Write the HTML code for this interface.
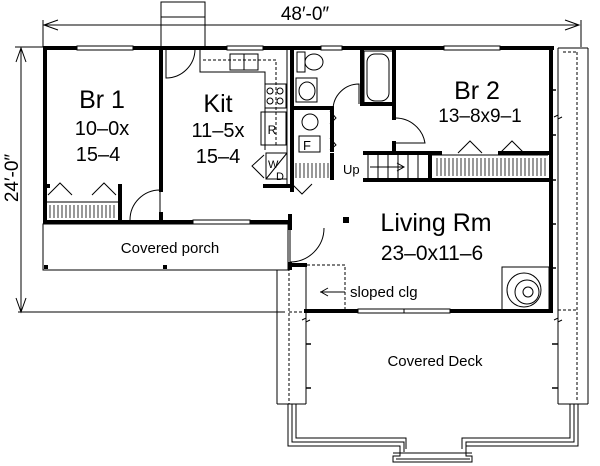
<!DOCTYPE html>
<html><head><meta charset="utf-8"><style>
html,body{margin:0;padding:0;background:#fff;}
svg{display:block;}
text{font-family:"Liberation Sans",sans-serif;fill:#000;}
</style></head><body>
<svg width="600" height="466" viewBox="0 0 600 466" xmlns="http://www.w3.org/2000/svg">
<rect width="600" height="466" fill="#fff"/>
<!-- dimensions -->
<g stroke="#000" stroke-width="1" fill="none">
<line x1="43" y1="25" x2="579" y2="25"/>
<polyline points="58,20 44,25 58,30"/>
<polyline points="565,20 579,25 565,30"/>
<line x1="43" y1="20" x2="43" y2="47"/>
<line x1="581" y1="20" x2="581" y2="47"/>
<line x1="21" y1="48" x2="21" y2="312"/>
<polyline points="16,62 21,48 26,62"/>
<polyline points="16,298 21,312 26,298"/>
<line x1="15" y1="47" x2="43" y2="47"/>
<line x1="18" y1="312" x2="285" y2="312"/>
</g>
<text x="305" y="20" font-size="19" text-anchor="middle">48′-0″</text>
<text transform="translate(18,178) rotate(-90)" font-size="19" text-anchor="middle">24′-0″</text>

<!-- chimney -->
<g stroke="#000" stroke-width="1" fill="none">
<rect x="161" y="2" width="44" height="46"/>
<line x1="161" y1="17" x2="205" y2="17"/>
</g>

<!-- right dashed strip -->
<g stroke="#000" fill="none">
<line x1="558" y1="48" x2="558" y2="404" stroke-width="1"/>
<line x1="588" y1="48" x2="588" y2="404" stroke-width="1"/>
<line x1="558" y1="48" x2="588" y2="48" stroke-width="1"/>
<line x1="558" y1="404" x2="588" y2="404" stroke-width="1"/>
<line x1="577" y1="52" x2="577" y2="400" stroke-width="1" stroke-dasharray="3,2"/>
<line x1="563" y1="52" x2="577" y2="52" stroke-width="1" stroke-dasharray="3,2"/>
<line x1="558" y1="310" x2="577" y2="310" stroke-width="1" stroke-dasharray="3,2"/>
<!-- left deck strip -->
<line x1="277" y1="270" x2="277" y2="404"/>
<line x1="306" y1="265" x2="306" y2="404"/>
<line x1="277" y1="404" x2="306" y2="404"/>
<line x1="289" y1="268" x2="289" y2="404" stroke-dasharray="3,2"/>
<line x1="289" y1="312" x2="306" y2="312" stroke-dasharray="3,2"/>
<!-- sloped ceiling dashed -->
<polyline points="292,265 345,265 345,311" stroke-dasharray="3,2"/>
</g>
<!-- wall ticks -->
<g stroke="#000" stroke-width="1.5">
<line x1="549" y1="90" x2="556" y2="90"/>
<line x1="549" y1="135" x2="556" y2="135"/>
<line x1="549" y1="180" x2="556" y2="180"/>
<line x1="549" y1="224" x2="556" y2="224"/>
<line x1="549" y1="268" x2="556" y2="268"/>
<line x1="306" y1="344" x2="311" y2="344"/>
<line x1="306" y1="388" x2="311" y2="388"/>
<line x1="552" y1="344" x2="558" y2="344"/>
<line x1="552" y1="388" x2="558" y2="388"/>
</g>
<g stroke="#000" stroke-width="1" fill="none">
<polyline points="302,320 306,318 306,322 310,320"/>
<polyline points="554,320 558,318 558,322 562,320"/>
<polyline points="554,117 558,115 558,119 562,117"/>
</g>

<!-- bay deck -->
<g stroke="#000" stroke-width="1" fill="none">
<polyline points="288,404 288,446 400,446 400,456 393,456 393,462 472,462 472,456 466,456 466,446 578,446 578,404"/>
<polyline points="292,404 292,442 404,442 404,452"/>
<polyline points="296,404 296,438 406,438 406,449"/>
<polyline points="462,449 462,438 570,438 570,404"/>
<polyline points="466,452 466,442 574,442 574,404"/>
<line x1="396" y1="459" x2="470" y2="459"/>
<line x1="393" y1="453" x2="472" y2="453"/>
</g>

<!-- walls -->
<g stroke="#000" stroke-width="4" fill="none" stroke-linecap="square">
<line x1="45" y1="48" x2="77" y2="48"/>
<line x1="133" y1="48" x2="227" y2="48"/>
<line x1="263" y1="48" x2="321" y2="48"/>
<line x1="342" y1="48" x2="444" y2="48"/>
<line x1="500" y1="48" x2="552" y2="48"/>
<line x1="45" y1="48" x2="45" y2="222"/>
<line x1="45" y1="222" x2="193" y2="222"/>
<line x1="250" y1="222" x2="290" y2="222"/>
<line x1="161" y1="48" x2="161" y2="190"/>
<line x1="161" y1="214" x2="161" y2="222"/>
<line x1="292" y1="48" x2="292" y2="190"/>
<line x1="290" y1="216" x2="290" y2="228"/>
<line x1="290" y1="264" x2="290" y2="268"/>
<line x1="290" y1="265" x2="305" y2="265"/>
<line x1="551" y1="48" x2="551" y2="311"/>
<line x1="306" y1="311" x2="358" y2="311"/>
<line x1="450" y1="311" x2="551" y2="311"/>
<line x1="293" y1="108" x2="330" y2="108"/>
<line x1="362" y1="104" x2="393" y2="104"/>
<line x1="394" y1="48" x2="394" y2="118"/>
<line x1="362" y1="48" x2="362" y2="104"/>
<line x1="332" y1="108" x2="332" y2="150"/>
<line x1="332" y1="155" x2="332" y2="178"/>
<line x1="265" y1="186" x2="290" y2="186"/>
<line x1="394" y1="143" x2="394" y2="153"/>
<line x1="365" y1="153" x2="440" y2="153"/>
<line x1="500" y1="153" x2="549" y2="153"/>
<line x1="430" y1="153" x2="430" y2="180"/>
<line x1="365" y1="180" x2="549" y2="180"/>
<line x1="120" y1="186" x2="120" y2="222"/>
<line x1="45" y1="186" x2="48" y2="186"/>
</g>
<!-- windows -->
<g stroke="#000" stroke-width="1" fill="#fff">
<rect x="77" y="46" width="56" height="4"/>
<rect x="227" y="46" width="36" height="4"/>
<rect x="321" y="46" width="21" height="4"/>
<rect x="444" y="46" width="56" height="4"/>
<rect x="193" y="220" width="57" height="4"/>
<rect x="358" y="309" width="46" height="4"/>
<rect x="404" y="309" width="46" height="4"/>
</g>

<!-- porch -->
<g stroke="#000" stroke-width="1" fill="none">
<rect x="43" y="224" width="245" height="46"/>
</g>
<rect x="44" y="265" width="4" height="4"/>
<rect x="163" y="265" width="4" height="4"/>
<text x="170" y="253" font-size="15" text-anchor="middle">Covered porch</text>

<!-- doors -->
<g stroke="#000" stroke-width="1" fill="none">
<path d="M290,228 L290,262 A34,34 0 0 0 324,228"/>
<path d="M166,49 L166,78 A29,29 0 0 0 195,49"/>
<path d="M130,220 A30,30 0 0 1 160,190 L160,220"/>
<path d="M333,110 A26,26 0 0 1 359,84 L359,104"/>
<path d="M395,118 A30,30 0 0 1 425,143 L395,143"/>
</g>

<!-- kitchen -->
<g stroke="#000" stroke-width="1" fill="none">
<polyline points="200,49 200,72 265,72 265,150"/>
<line x1="287" y1="49" x2="287" y2="186"/>
<polyline points="203,60 276,60 276,146" stroke-dasharray="3,2"/>
<rect x="230" y="54" width="14" height="16"/>
<rect x="244" y="54" width="14" height="16"/>
<rect x="265" y="84" width="21" height="24"/>
<circle cx="270" cy="91" r="3"/><circle cx="280" cy="91" r="3"/>
<circle cx="270" cy="101" r="3"/><circle cx="280" cy="101" r="3"/>
<rect x="261" y="112" width="25" height="33"/>
<rect x="266" y="153" width="21" height="26"/>
<line x1="266" y1="179" x2="287" y2="153"/>
<polyline points="264,155 252,166 264,178"/>
</g>
<text x="272" y="134" font-size="12" text-anchor="middle">R</text>
<text x="268" y="168" font-size="11">W</text>
<text x="276" y="180" font-size="11">D</text>

<!-- bath -->
<g stroke="#000" stroke-width="1" fill="none">
<rect x="297" y="52" width="8" height="20"/>
<ellipse cx="314" cy="62" rx="9" ry="8"/>
<rect x="296" y="78" width="21" height="24"/>
<ellipse cx="307" cy="91" rx="8" ry="9"/>
<rect x="364" y="51" width="29" height="52"/>
<rect x="367" y="54" width="22" height="47" rx="8"/>
<circle cx="310" cy="122" r="8"/>
<rect x="299" y="136" width="21" height="16"/>
<polyline points="330,111 336,118 330,124"/>
<polyline points="330,138 336,145 330,150"/>
<polyline points="292,184 302,194 312,184"/>
</g>
<text x="303" y="150" font-size="13">F</text>
<!-- stairs -->
<g stroke="#000" stroke-width="1" fill="none">
<line x1="368" y1="155" x2="368" y2="180"/>
<line x1="378" y1="155" x2="378" y2="180"/>
<line x1="388" y1="155" x2="388" y2="180"/>
<line x1="398" y1="155" x2="398" y2="180"/>
<line x1="408" y1="155" x2="408" y2="180"/>
<line x1="418" y1="155" x2="418" y2="180"/>
<line x1="370" y1="167" x2="403" y2="167"/>
<polyline points="397,163 404,167 397,171"/>
</g>
<text x="343" y="174" font-size="13">Up</text>

<!-- closets hatching -->
<g stroke="#000" stroke-width="0.8">
<path d="M50,205 L50,218 M54,205 L54,218 M58,205 L58,218 M62,205 L62,218 M66,205 L66,218 M70,205 L70,218 M74,205 L74,218 M78,205 L78,218 M82,205 L82,218 M86,205 L86,218 M90,205 L90,218 M94,205 L94,218 M98,205 L98,218 M102,205 L102,218 M106,205 L106,218 M110,205 L110,218 M114,205 L114,218"/>
<path d="M296,163 L296,178 M300,163 L300,178 M304,163 L304,178 M308,163 L308,178 M312,163 L312,178 M316,163 L316,178 M320,163 L320,178 M324,163 L324,178 M328,163 L328,178"/>
<path d="M437,158 L437,176 M441,158 L441,176 M445,158 L445,176 M449,158 L449,176 M453,158 L453,176 M457,158 L457,176 M461,158 L461,176 M465,158 L465,176 M469,158 L469,176 M473,158 L473,176 M477,158 L477,176 M481,158 L481,176 M485,158 L485,176 M489,158 L489,176 M493,158 L493,176 M497,158 L497,176 M501,158 L501,176 M505,158 L505,176 M509,158 L509,176 M513,158 L513,176 M517,158 L517,176 M521,158 L521,176 M525,158 L525,176 M529,158 L529,176 M533,158 L533,176 M537,158 L537,176 M541,158 L541,176 M545,158 L545,176"/>
</g>
<g stroke="#000" stroke-width="1" fill="none">
<line x1="47" y1="202" x2="120" y2="202"/>
<polyline points="48,195 60,183 72,195"/>
<polyline points="92,195 104,183 116,195"/>
<line x1="432" y1="155" x2="548" y2="155"/>
<polyline points="458,153 470,141 482,153"/>
<polyline points="500,153 512,141 524,153"/>
</g>

<!-- fireplace -->
<g stroke="#000" stroke-width="1" fill="none">
<rect x="502" y="267" width="47" height="44"/>
<circle cx="524" cy="290" r="17"/>
<circle cx="527" cy="292" r="12"/>
<circle cx="528" cy="292" r="5"/>
</g>
<g stroke="#000" stroke-width="1">
<line x1="320" y1="292" x2="345" y2="292"/>
<polyline points="328,288 321,292 328,296" fill="none"/>
</g>
<text x="350" y="297" font-size="15">sloped clg</text>
<rect x="343" y="217" width="6" height="6"/>

<!-- labels -->
<text x="102" y="108" font-size="25" text-anchor="middle">Br 1</text>
<text x="102" y="135" font-size="20" text-anchor="middle">10–0x</text>
<text x="98" y="161" font-size="20" text-anchor="middle">15–4</text>
<text x="218" y="112" font-size="25" text-anchor="middle">Kit</text>
<text x="218" y="137" font-size="20" text-anchor="middle">11–5x</text>
<text x="218" y="163" font-size="20" text-anchor="middle">15–4</text>
<text x="477" y="99" font-size="25" text-anchor="middle">Br 2</text>
<text x="480" y="122" font-size="19" text-anchor="middle">13–8x9–1</text>
<text x="436" y="231" font-size="25" text-anchor="middle">Living Rm</text>
<text x="432" y="260" font-size="21" text-anchor="middle">23–0x11–6</text>
<text x="435" y="366" font-size="15" text-anchor="middle">Covered Deck</text>
</svg>
</body></html>
